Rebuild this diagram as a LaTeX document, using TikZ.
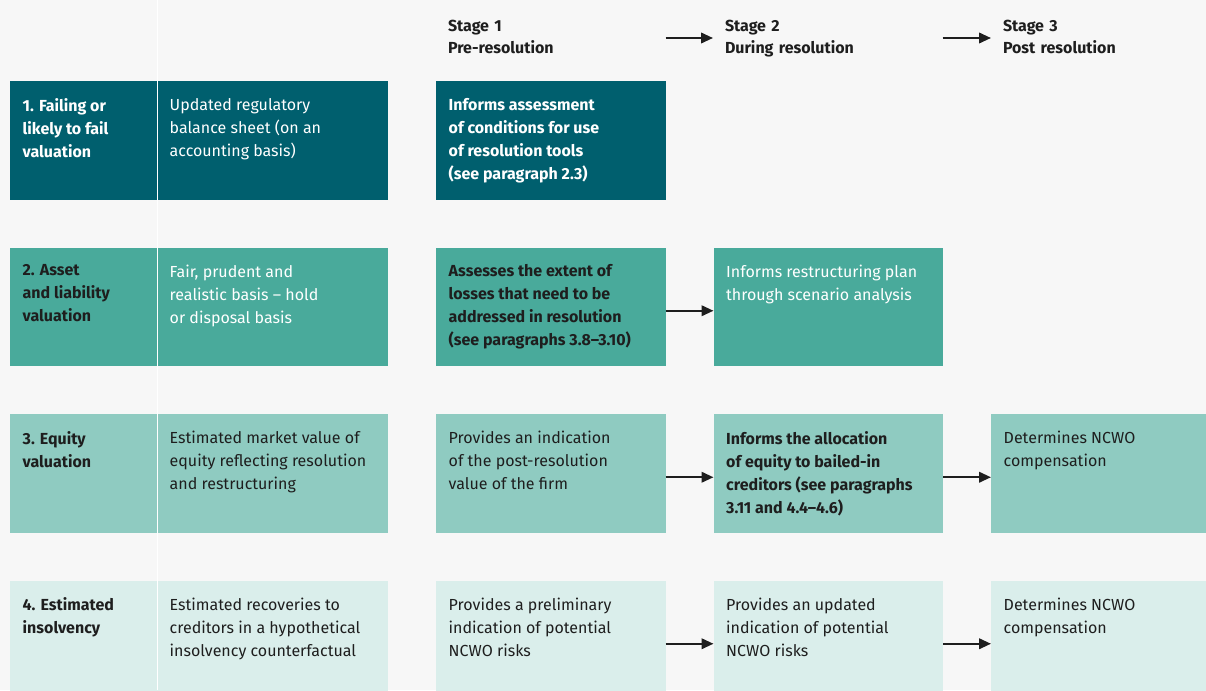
\documentclass[tikz,border=0pt]{standalone}
\usepackage{fontspec}
\setmainfont{Fira Sans}
\usepackage{tikz}
\usetikzlibrary{positioning}
\usetikzlibrary{arrows.meta}
\definecolor{paper}{HTML}{F7F7F7}
\definecolor{tealdark}{HTML}{005F6E}
\definecolor{tealmid}{HTML}{49AA9B}
\definecolor{teallight}{HTML}{8FCBC1}
\definecolor{tealpale}{HTML}{DAEEEB}
\definecolor{ink}{HTML}{1E1E1E}
\tikzset{cell/.style={rectangle, inner sep=0pt, outer sep=0pt, minimum height=118.5pt},
  lab/.style={anchor=north west, inner xsep=12.5pt, inner ysep=17pt, align=left, font=\fontsize{16}{23}\selectfont},
  head/.style={anchor=north west, inner xsep=12pt, inner ysep=0pt, outer sep=0pt, align=left, text=ink, text width=205.5pt, font=\bfseries\fontsize{16}{22}\selectfont},
  flow/.style={-{Triangle[length=12pt,width=10.5pt]}, line width=2.2pt, ink}}

\begin{document}
\begin{tikzpicture}[x=1pt,y=-1pt]
\useasboundingbox (0,0) rectangle (1206,690);
\fill[paper] (0,0) rectangle (1206,690);
\clip (0,0) rectangle (1206,690);

% stage headings
\node (stage1) [head] at (436,20) {Stage 1\\Pre-resolution};
\node (stage2) [head] at (713,20) {Stage 2\\During resolution};
\node (stage3) [head] at (991,20) {Stage 3\\Post resolution};
\draw[flow] ([yshift=-18pt]stage1.north east) -- ([yshift=-18pt]stage2.north west);
\draw[flow] ([yshift=-18pt]stage2.north east) -- ([yshift=-18pt]stage3.north west);

% row 1
\node (fail) [cell, anchor=north west, fill=tealdark, minimum width=147pt, label={[lab, text=white, font=\bfseries\fontsize{16}{23}\selectfont]north west:{1. Failing or\\likely to fail\\valuation}}] at (10,81) {};
\node (failbs) [cell, right=0pt of fail, fill=tealdark, minimum width=231pt, label={[lab, text=white]north west:{Updated regulatory\\balance sheet (on an\\accounting basis)}}] {};
\node (fail1) [cell, right=48pt of failbs, fill=tealdark, minimum width=229.5pt, label={[lab, text=white, font=\bfseries\fontsize{16}{23}\selectfont]north west:{Informs assessment\\of conditions for use\\of resolution tools\\(see paragraph 2.3)}}] {};

% row 2
\node (asset) [cell, below=48pt of fail, fill=tealmid, minimum width=147pt, label={[lab, text=ink, font=\bfseries\fontsize{16}{23}\selectfont]north west:{2. Asset\\and liability\\valuation}}] {};
\node (assetbs) [cell, right=0pt of asset, fill=tealmid, minimum width=231pt, label={[lab, text=white]north west:{Fair, prudent and\\realistic basis – hold\\or disposal basis}}] {};
\node (asset1) [cell, right=48pt of assetbs, fill=tealmid, minimum width=229.5pt, label={[lab, text=ink, font=\bfseries\fontsize{16}{23}\selectfont]north west:{Assesses the extent of\\losses that need to be\\addressed in resolution\\(see paragraphs 3.8–3.10)}}] {};
\node (asset2) [cell, right=48pt of asset1, fill=tealmid, minimum width=229.5pt, label={[lab, text=white]north west:{Informs restructuring plan\\through scenario analysis}}] {};

% row 3
\node (equity) [cell, below=48pt of asset, fill=teallight, minimum width=147pt, label={[lab, text=ink, font=\bfseries\fontsize{16}{23}\selectfont]north west:{3. Equity\\valuation}}] {};
\node (equitybs) [cell, right=0pt of equity, fill=teallight, minimum width=231pt, label={[lab, text=ink]north west:{Estimated market value of\\equity reflecting resolution\\and restructuring}}] {};
\node (equity1) [cell, right=48pt of equitybs, fill=teallight, minimum width=229.5pt, label={[lab, text=ink]north west:{Provides an indication\\of the post-resolution\\value of the firm}}] {};
\node (equity2) [cell, right=48pt of equity1, fill=teallight, minimum width=229.5pt, label={[lab, text=ink, font=\bfseries\fontsize{16}{23}\selectfont]north west:{Informs the allocation\\of equity to bailed-in\\creditors (see paragraphs\\3.11 and 4.4–4.6)}}] {};
\node (equity3) [cell, right=48pt of equity2, fill=teallight, minimum width=229.5pt, label={[lab, text=ink]north west:{Determines NCWO\\compensation}}] {};

% row 4
\node (insolv) [cell, below=48pt of equity, fill=tealpale, minimum width=147pt, label={[lab, text=ink, font=\bfseries\fontsize{16}{23}\selectfont]north west:{4. Estimated\\insolvency}}] {};
\node (insolvbs) [cell, right=0pt of insolv, fill=tealpale, minimum width=231pt, label={[lab, text=ink]north west:{Estimated recoveries to\\creditors in a hypothetical\\insolvency counterfactual}}] {};
\node (insolv1) [cell, right=48pt of insolvbs, fill=tealpale, minimum width=229.5pt, label={[lab, text=ink]north west:{Provides a preliminary\\indication of potential\\NCWO risks}}] {};
\node (insolv2) [cell, right=48pt of insolv1, fill=tealpale, minimum width=229.5pt, label={[lab, text=ink]north west:{Provides an updated\\indication of potential\\NCWO risks}}] {};
\node (insolv3) [cell, right=48pt of insolv2, fill=tealpale, minimum width=229.5pt, label={[lab, text=ink]north west:{Determines NCWO\\compensation}}] {};

\draw[white, line width=1pt] (157,0) -- (157,690);

\draw[flow] ([yshift=-4pt]asset1.east) -- ([yshift=-4pt]asset2.west);
\draw[flow] ([yshift=-4pt]equity1.east) -- ([yshift=-4pt]equity2.west);
\draw[flow] ([yshift=-4pt]equity2.east) -- ([yshift=-4pt]equity3.west);
\draw[flow] ([yshift=-4pt]insolv1.east) -- ([yshift=-4pt]insolv2.west);
\draw[flow] ([yshift=-4pt]insolv2.east) -- ([yshift=-4pt]insolv3.west);
\end{tikzpicture}
\end{document}
